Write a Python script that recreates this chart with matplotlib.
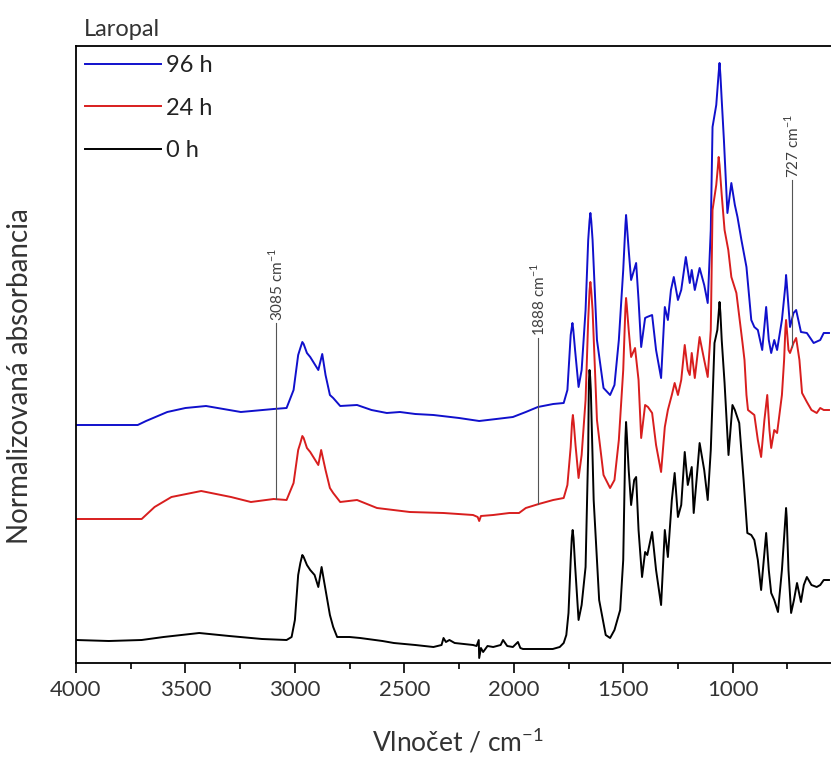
import matplotlib
matplotlib.use("Agg")
import matplotlib.pyplot as plt
from matplotlib.ticker import MultipleLocator, FixedLocator

plt.rcParams['font.family'] = ['Lato', 'DejaVu Sans']
plt.rcParams['mathtext.fontset'] = 'custom'
plt.rcParams['mathtext.rm'] = 'Lato'

# wavenumbers (cm-1) and normalized absorbance (offset)
wn_0h = [4000, 3850, 3700, 3600, 3437, 3300, 3150, 3038, 3015, 3000, 2985, 2975, 2966, 2960,
         2945, 2930, 2910, 2893, 2878, 2860, 2840, 2825, 2807, 2750, 2702, 2600, 2548, 2450,
         2367, 2330, 2321, 2310, 2294, 2270, 2186, 2170, 2160, 2158, 2150, 2140, 2120, 2094,
         2060, 2049, 2030, 2004, 1981, 1970, 1958, 1900, 1822, 1790, 1772, 1760, 1750, 1740,
         1735, 1731, 1727, 1720, 1704, 1690, 1672, 1660, 1657, 1654, 1651, 1648, 1635, 1610,
         1580, 1560, 1540, 1514, 1500, 1490, 1487, 1484, 1475, 1464, 1450, 1441, 1430, 1414,
         1400, 1390, 1368, 1350, 1327, 1310, 1296, 1278, 1265, 1250, 1235, 1219, 1205, 1187,
         1178, 1165, 1151, 1130, 1114, 1100, 1083, 1070, 1064, 1060, 1056, 1050, 1037, 1019,
         1001, 990, 970, 950, 933, 915, 901, 885, 870, 847, 835, 824, 810, 793, 775, 759,
         756, 753, 745, 733, 720, 706, 688, 675, 661, 640, 616, 600, 584, 560]
a_0h = [0.23, 0.22, 0.23, 0.26, 0.30, 0.27, 0.24, 0.23, 0.26, 0.43, 0.88, 1.00, 1.08, 1.06,
        0.98, 0.93, 0.88, 0.76, 0.96, 0.73, 0.48, 0.36, 0.26, 0.26, 0.25, 0.22, 0.20, 0.18,
        0.16, 0.18, 0.25, 0.21, 0.23, 0.20, 0.18, 0.17, 0.23, 0.05, 0.15, 0.11, 0.17, 0.16,
        0.18, 0.23, 0.17, 0.16, 0.21, 0.15, 0.14, 0.14, 0.14, 0.16, 0.20, 0.28, 0.50, 1.03,
        1.25, 1.33, 1.25, 0.98, 0.43, 0.58, 0.96, 2.13, 2.80, 2.93, 2.86, 2.73, 1.63, 0.63,
        0.28, 0.25, 0.33, 0.53, 1.03, 2.25, 2.41, 2.30, 1.93, 1.58, 1.83, 1.86, 1.33, 0.86,
        1.11, 1.08, 1.31, 0.93, 0.58, 1.33, 1.06, 1.63, 1.90, 1.46, 1.58, 2.11, 1.78, 1.96,
        1.50, 1.83, 2.20, 1.93, 1.63, 2.13, 3.20, 3.33, 3.50, 3.61, 3.50, 3.23, 2.80, 2.08,
        2.58, 2.53, 2.40, 1.83, 1.30, 1.28, 1.23, 1.03, 0.73, 1.30, 0.93, 0.70, 0.63, 0.51,
        0.93, 1.45, 1.55, 1.45, 0.93, 0.50, 0.63, 0.80, 0.61, 0.78, 0.86, 0.78, 0.76, 0.78,
        0.83, 0.83]

wn_24h = [4000, 3850, 3700, 3641, 3564, 3428, 3292, 3201, 3097, 3038, 3006, 2985, 2975, 2966,
          2960, 2945, 2930, 2893, 2880, 2860, 2840, 2825, 2793, 2716, 2625, 2475, 2321, 2186,
          2165, 2158, 2150, 2094, 2020, 1976, 1945, 1886, 1820, 1772, 1755, 1740, 1734, 1730,
          1726, 1718, 1704, 1690, 1672, 1660, 1654, 1650, 1646, 1640, 1620, 1590, 1560, 1540,
          1520, 1500, 1490, 1487, 1484, 1475, 1464, 1446, 1430, 1418, 1400, 1387, 1368, 1350,
          1327, 1310, 1296, 1278, 1265, 1250, 1235, 1219, 1205, 1196, 1187, 1173, 1151, 1130,
          1114, 1100, 1092, 1075, 1068, 1064, 1060, 1050, 1037, 1020, 1006, 983, 955, 946,
          937, 930, 901, 885, 870, 855, 842, 832, 824, 810, 797, 775, 765, 759, 756, 753,
          745, 738, 722, 710, 695, 683, 661, 640, 616, 600, 584, 560]
a_24h = [1.44, 1.44, 1.44, 1.56, 1.66, 1.72, 1.66, 1.61, 1.64, 1.63, 1.80, 2.13, 2.20, 2.27,
         2.25, 2.15, 2.11, 1.98, 2.13, 1.93, 1.75, 1.70, 1.61, 1.63, 1.55, 1.51, 1.50, 1.48,
         1.46, 1.42, 1.47, 1.48, 1.50, 1.50, 1.55, 1.59, 1.63, 1.65, 1.78, 2.16, 2.40, 2.48,
         2.40, 2.18, 1.85, 2.08, 2.63, 3.43, 3.72, 3.81, 3.72, 3.53, 2.43, 1.88, 1.75, 1.83,
         2.23, 2.93, 3.55, 3.65, 3.58, 3.33, 3.06, 3.15, 2.83, 2.25, 2.58, 2.56, 2.50, 2.18,
         1.91, 2.36, 2.53, 2.68, 2.80, 2.68, 2.83, 3.18, 2.93, 2.88, 3.10, 2.85, 3.26, 3.03,
         2.86, 3.33, 4.53, 4.78, 4.95, 5.06, 4.98, 4.68, 4.33, 4.13, 3.86, 3.70, 3.20, 3.03,
         2.68, 2.53, 2.48, 2.23, 2.06, 2.43, 2.68, 2.33, 2.15, 2.33, 2.30, 2.68, 3.03, 3.35,
         3.43, 3.35, 3.13, 3.10, 3.20, 3.25, 3.03, 2.70, 2.61, 2.53, 2.50, 2.55, 2.53, 2.53]

wn_96h = [4000, 3850, 3718, 3680, 3583, 3500, 3406, 3300, 3247, 3097, 3038, 3006, 2985, 2975,
          2966, 2960, 2945, 2930, 2893, 2875, 2860, 2840, 2825, 2793, 2716, 2650, 2580, 2520,
          2450, 2367, 2250, 2158, 2080, 2004, 1945, 1890, 1820, 1772, 1755, 1740, 1736, 1732,
          1728, 1720, 1704, 1690, 1672, 1660, 1654, 1650, 1646, 1640, 1620, 1590, 1560, 1540,
          1520, 1500, 1490, 1487, 1484, 1475, 1464, 1441, 1430, 1418, 1400, 1391, 1368, 1350,
          1327, 1310, 1296, 1282, 1269, 1250, 1235, 1214, 1196, 1187, 1173, 1151, 1130, 1114,
          1100, 1092, 1075, 1064, 1060, 1056, 1050, 1040, 1024, 1006, 990, 978, 960, 937,
          915, 901, 885, 865, 847, 835, 824, 810, 797, 775, 759, 756, 753, 738, 722, 710,
          688, 661, 630, 600, 584, 560]
a_96h = [2.38, 2.38, 2.38, 2.42, 2.51, 2.55, 2.57, 2.53, 2.51, 2.54, 2.55, 2.73, 3.08, 3.15,
         3.21, 3.19, 3.10, 3.06, 2.93, 3.09, 2.88, 2.68, 2.65, 2.57, 2.58, 2.53, 2.50, 2.51,
         2.49, 2.48, 2.45, 2.42, 2.44, 2.46, 2.51, 2.56, 2.59, 2.60, 2.73, 3.28, 3.34, 3.40,
         3.33, 3.13, 2.76, 2.93, 3.53, 4.23, 4.42, 4.50, 4.42, 4.23, 3.23, 2.75, 2.68, 2.78,
         3.23, 3.93, 4.38, 4.48, 4.40, 4.13, 3.83, 4.00, 3.63, 3.16, 3.45, 3.46, 3.48, 3.13,
         2.85, 3.56, 3.43, 3.73, 3.86, 3.63, 3.73, 4.06, 3.80, 3.93, 3.73, 3.95, 3.78, 3.60,
         4.33, 5.36, 5.58, 5.90, 6.00, 5.88, 5.63, 5.23, 4.50, 4.80, 4.58, 4.46, 4.23, 3.96,
         3.43, 3.36, 3.33, 3.13, 3.56, 3.23, 3.10, 3.23, 3.13, 3.43, 3.78, 3.88, 3.80, 3.36,
         3.50, 3.53, 3.31, 3.30, 3.20, 3.23, 3.30, 3.30]

# marked bands: position, line bottom, line top
band_pos = [3085, 1888, 727]
band_lo = [1.64, 1.59, 3.16]
band_hi = [3.40, 3.25, 4.83]

W, H = 831, 763
fig = plt.figure(figsize=(W / 100, H / 100), dpi=100)
ax = fig.add_axes([76 / W, (H - 663) / H, (864 - 76) / W, (663 - 46) / H])

series = [(wn_96h, a_96h, '#1010cc', '96 h'),
          (wn_24h, a_24h, '#d81e1e', '24 h'),
          (wn_0h, a_0h, 'black', '0 h')]
for wn, a, col, lab in series:
    assert len(wn) == len(a), lab
    ax.plot(wn, a, color=col, lw=1.4, label=lab, solid_joinstyle='round')

for x, lo, hi in zip(band_pos, band_lo, band_hi):
    ax.plot([x, x], [lo, hi], color='#555555', lw=0.8)
    ax.text(x, hi + 0.02, '%d cm$^{-1}$' % x, rotation=90, ha='center', va='bottom',
            fontsize=11, color='#404040')

ax.set_xlim(4000, 400)
ax.set_ylim(0, 6.17)
ax.xaxis.set_major_locator(FixedLocator([4000, 3500, 3000, 2500, 2000, 1500, 1000]))
ax.xaxis.set_minor_locator(MultipleLocator(250))
ax.tick_params(axis='x', which='major', direction='out', length=7, width=1.2,
               labelsize=16, pad=5, labelcolor='#333333')
ax.tick_params(axis='x', which='minor', direction='out', length=4, width=1.2)
ax.set_yticks([])
for s in ax.spines.values():
    s.set_linewidth(1.3)

ax.set_xlabel('Vlnočet / cm$^{-1}$', fontsize=19, color='#333333')
ax.xaxis.set_label_coords(0.485, -0.103)
ax.set_ylabel('Normalizovaná absorbancia', fontsize=20, color='#333333')
ax.yaxis.set_label_coords(-0.054, 0.465)

ax.legend(loc='upper left', bbox_to_anchor=(0.0, 1.0), frameon=False, fontsize=17,
          handlelength=3.2, handletextpad=0.2, labelspacing=0.9, borderaxespad=0.1,
          borderpad=0.3, labelcolor='#222222')

fig.text(84 / W, 1 - 36 / H, 'Laropal', fontsize=17, color='#333333', va='baseline')

fig.savefig('out.png', dpi=100)
